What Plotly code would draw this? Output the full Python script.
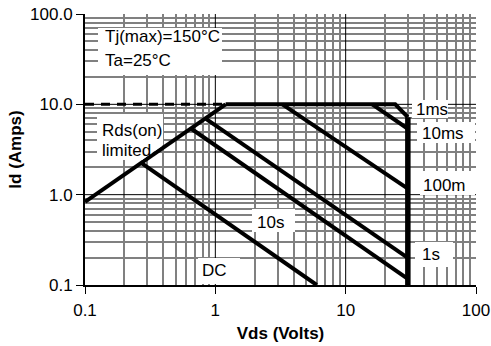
import plotly.graph_objects as go

# ---------------- data ----------------
x_tickvals = [0.1, 1, 10, 100]
x_ticktext = ["0.1", "1", "10", "100"]
y_tickvals = [0.1, 1, 10, 100]
y_ticktext = ["0.1", "1.0", "10.0", "100.0"]

rds_vds = [0.1, 1.2]
rds_id = [0.833, 10]
rds_dash_vds = [0.1, 1.2]
rds_dash_id = [10, 10]
t1ms_vds = [1.2, 24, 30]
t1ms_id = [10, 10, 7.2]
bv_vds = [30, 30]
bv_id = [7.2, 0.1]
t10ms_vds = [16, 30]
t10ms_id = [10, 5.37]
t100ms_vds = [3.27, 30]
t100ms_id = [10, 1.165]
t1s_vds = [0.837, 30]
t1s_id = [7.0, 0.2]
t10s_vds = [0.65, 30]
t10s_id = [5.4, 0.117]
dc_vds = [0.27, 6.0]
dc_id = [2.25, 0.1]

minor_vals = [m * d for d in (0.1, 1, 10) for m in range(2, 10)] + [100]

# ---------------- figure ----------------
W, H = 491, 346
L, R, T, B = 85, 15, 14, 61
PW, PH = W - L - R, H - T - B
FONT = "Liberation Sans, Arial, sans-serif"


def px(xp):
    return (xp - L) / PW


def py(yp):
    return (H - B - yp) / PH


fig = go.Figure()
line_style = dict(color="black", width=4)
for xs, ys in [(rds_vds, rds_id), (t1ms_vds, t1ms_id), (t10ms_vds, t10ms_id),
               (t100ms_vds, t100ms_id), (t1s_vds, t1s_id), (t10s_vds, t10s_id),
               (dc_vds, dc_id)]:
    fig.add_trace(go.Scatter(x=xs, y=ys, mode="lines", line=line_style,
                             showlegend=False, hoverinfo="skip"))
fig.add_trace(go.Scatter(x=bv_vds, y=bv_id, mode="lines",
                         line=dict(color="black", width=5.5),
                         showlegend=False, hoverinfo="skip"))
fig.add_trace(go.Scatter(x=rds_dash_vds, y=rds_dash_id, mode="lines",
                         line=dict(color="black", width=3, dash="9px,7px"),
                         showlegend=False, hoverinfo="skip"))

shapes = []
# thin black major grid lines (decades)
for v in [1, 10]:
    shapes.append(dict(type="line", xref="x", yref="paper", x0=v, x1=v, y0=0, y1=1,
                       line=dict(color="black", width=1), layer="above"))
    shapes.append(dict(type="line", xref="paper", yref="y", x0=0, x1=1, y0=v, y1=v,
                       line=dict(color="black", width=1), layer="above"))

# white label boxes (pixel boxes)
boxes = [(98, 222, 28, 75), (412, 448, 100, 118),
         (417, 475, 122, 143), (420, 475, 171, 195), (415, 453, 242, 267),
         (252, 295, 209, 232), (198, 240, 258, 284)]
for x0, x1, y0, y1 in boxes:
    shapes.append(dict(type="rect", xref="paper", yref="paper",
                       x0=px(x0), x1=px(x1), y0=py(y1), y1=py(y0),
                       fillcolor="white", line=dict(width=0), layer="above"))
# Rds(on) box, with its corner left open so the limit line stays visible
rds_box = [(97, 114), (163, 114), (163, 145), (142, 160), (97, 160)]
path = "M " + " L ".join(f"{px(a):.5f},{py(b):.5f}" for a, b in rds_box) + " Z"
shapes.append(dict(type="path", xref="paper", yref="paper", path=path,
                   fillcolor="white", line=dict(width=0), layer="above"))

labels = [("Tj(max)=150°C", 105, 37), ("Ta=25°C", 105, 61),
          ("Rds(on)", 102, 130), ("limited", 102, 150),
          ("1ms", 416, 109), ("10ms", 422, 133), ("100m", 423, 185),
          ("1s", 422, 254), ("10s", 257, 222.5), ("DC", 202, 270)]
annotations = []
for txt, xl, yc in labels:
    annotations.append(dict(text=txt, xref="paper", yref="paper", x=px(xl - 2), y=py(yc),
                            xanchor="left", yanchor="middle", showarrow=False,
                            font=dict(family=FONT, size=17, color="black")))

axis_common = dict(
    type="log", automargin=False,
    showline=True, linecolor="black", linewidth=2,
    ticks="outside", ticklen=7, tickwidth=1, tickcolor="black",
    showgrid=False, zeroline=False,
    tickfont=dict(family=FONT, size=17, color="black"),
    minor=dict(tickvals=minor_vals, showgrid=True, gridcolor="#808080",
               gridwidth=2, ticks=""),
)

fig.update_layout(
    width=W, height=H,
    margin=dict(l=L, r=R, t=T, b=B, pad=0, autoexpand=False),
    paper_bgcolor="white", plot_bgcolor="white",
    font=dict(family=FONT, size=17, color="black"),
    xaxis=dict(axis_common, range=[-1, 2], tickvals=x_tickvals, ticktext=x_ticktext,
               ticklabelstandoff=2,
               title=dict(text="Vds (Volts)", standoff=8,
                          font=dict(family=FONT, size=17, weight="bold"))),
    yaxis=dict(axis_common, range=[-1, 2], tickvals=y_tickvals, ticktext=y_ticktext,
               title=dict(text="Id (Amps)", standoff=4,
                          font=dict(family=FONT, size=17, weight="bold"))),
    shapes=shapes,
    annotations=annotations,
)

fig.write_html(
    "out.html",
    config={"displayModeBar": False},
    post_script="document.body.style.margin='0';document.body.style.padding='0';",
)
